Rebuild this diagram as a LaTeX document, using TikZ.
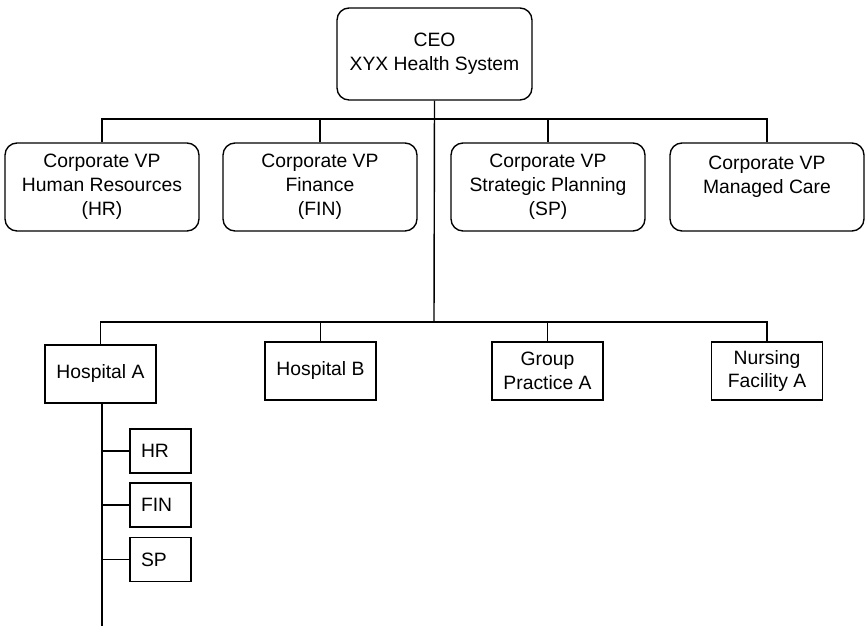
\documentclass[tikz,border=0pt]{standalone}
\usepackage{fontspec}
\setmainfont{Liberation Sans}
\usetikzlibrary{positioning}

\tikzset{
  vpbox/.style={draw, line width=0.8pt, rounded corners=0.24cm, align=center,
    inner sep=0pt, minimum width=3.88cm, minimum height=1.76cm,
    font=\fontsize{11}{13.6}\selectfont},
  unitbox/.style={draw, line width=0.8pt, align=center, inner sep=0pt,
    minimum width=2.22cm, minimum height=1.16cm,
    font=\fontsize{11}{13.6}\selectfont},
  deptbox/.style={draw, line width=0.8pt, align=left, inner xsep=0.22cm,
    inner ysep=0pt, text width=0.78cm, minimum height=0.88cm,
    font=\fontsize{11}{13.6}\selectfont},
  link/.style={line width=0.8pt}
}

\begin{document}
\begin{tikzpicture}[x=0.02cm,y=-0.02cm]
  \useasboundingbox (0,0) rectangle (866,628);

  % top level
  \node[vpbox, minimum width=3.9cm, minimum height=1.84cm] (ceo) at (434.5,54) {CEO\\XYX Health System};

  % corporate vice presidents
  \node[vpbox] (vphr)  at (102,187) {Corporate VP\\Human Resources\\(HR)};
  \node[vpbox] (vpfin) at (320,187) {Corporate VP\\Finance\\(FIN)};
  \node[vpbox] (vpsp)  at (548,187) {Corporate VP\\Strategic Planning\\(SP)};
  \node[vpbox] (vpmc)  at (767,187) {Corporate VP\\Managed Care\\\mbox{}};

  % operating units
  \node[unitbox] (hospa)   at (100.5,374) {Hospital A};
  \node[unitbox] (hospb)   at (320.5,371) {Hospital B};
  \node[unitbox] (groupa)  at (547.5,371) {Group\\Practice A};
  \node[unitbox] (nursea)  at (767,371)   {Nursing\\Facility A};

  % departments of hospital A
  \node[deptbox] (hr)  at (160.5,451) {HR};
  \node[deptbox] (fin) at (160.5,505) {FIN};
  \node[deptbox] (sp)  at (160.5,559.5) {SP};

  \coordinate (bar1) at (434,119);
  \coordinate (bar2) at (434,322);
  \coordinate (tail) at (102,626);

  \draw[link] (ceo.south) -- (bar2);
  \foreach \n in {vphr,vpfin,vpsp,vpmc}
    \draw[link] (\n.north) |- (bar1);
  \foreach \n in {hospa,hospb,groupa,nursea}
    \draw[link] (\n.north) |- (bar2);

  \draw[link] (hospa.south -| tail) -- (tail);
  \foreach \n in {hr,fin,sp}
    \draw[link] (\n.west) -- (\n.west -| tail);
\end{tikzpicture}
\end{document}
